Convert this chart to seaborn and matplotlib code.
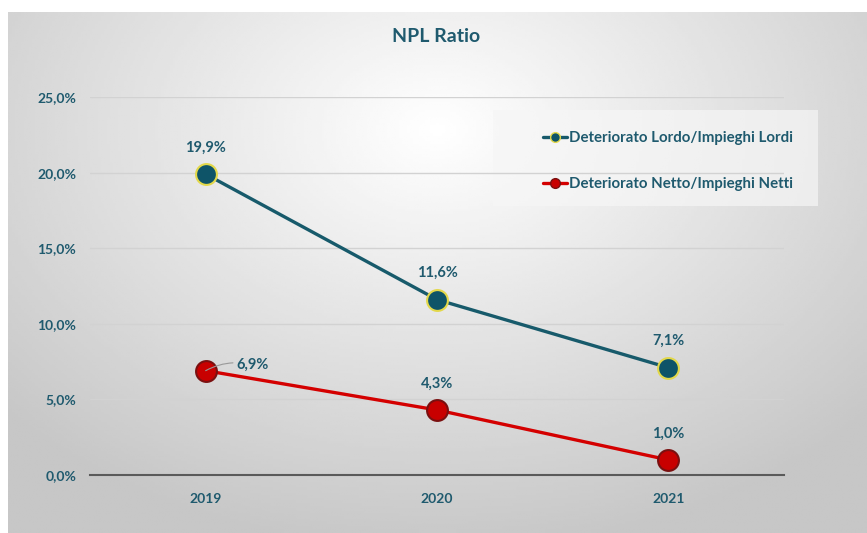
import matplotlib
matplotlib.use("Agg")
import matplotlib.pyplot as plt
from matplotlib.patches import Rectangle
import numpy as np
import pandas as pd
import seaborn as sns

years = ["2019", "2020", "2021"]
lordo = [19.9, 11.6, 7.1]
netto = [6.9, 4.3, 1.0]
series_names = ["Deteriorato Lordo/Impieghi Lordi", "Deteriorato Netto/Impieghi Netti"]
y_ticks = [0, 5, 10, 15, 20, 25]

teal = "#175a6b"
text_teal = "#1f5a6e"
red = "#d40000"

df = pd.DataFrame({
    "anno": years * 2,
    "valore": lordo + netto,
    "serie": [series_names[0]] * 3 + [series_names[1]] * 3,
})

sns.set_theme(style="white")
plt.rcParams["font.family"] = ["Lato", "DejaVu Sans"]

fig = plt.figure(figsize=(8.67, 5.33), dpi=100)

# gradient panel behind the chart
bg = fig.add_axes([8 / 867, 0, 1 - 8 / 867, 1 - 12 / 533], zorder=-2)
gx, gy = np.meshgrid(np.linspace(-1, 1, 300), np.linspace(-1, 1, 200))
r = np.sqrt((gx * 0.95) ** 2 + ((gy + 0.55) * 0.8) ** 2)
bg.imshow(1 - 0.17 * np.clip(r, 0, 1.3), cmap="gray", vmin=0, vmax=1,
          aspect="auto", extent=[0, 1, 0, 1], origin="upper")
bg.axis("off")

# legend box (under the grid)
fig.patches.append(Rectangle((493 / 867, 1 - 206 / 533), 325 / 867, 96 / 533,
                             transform=fig.transFigure, facecolor="#f6f6f6",
                             edgecolor="none", alpha=0.7, zorder=-1))

ax = fig.add_axes([90 / 867, 1 - 475 / 533, 694 / 867, 378 / 533])
ax.patch.set_alpha(0)

sns.lineplot(data=df, x="anno", y="valore", hue="serie", palette=[teal, red],
             marker="o", markersize=15, linewidth=2.4, ax=ax, legend=False, sort=False)
# marker edges
for line, edge, face in zip(ax.get_lines(), ["#e3d84a", "#7a1010"], ["#0e5468", "#c80000"]):
    line.set_markeredgecolor(edge)
    line.set_markerfacecolor(face)
    line.set_markeredgewidth(1.5)

ax.set_xlim(-0.5, 2.5)
ax.set_ylim(0, 25)
ax.set_yticks(y_ticks)
ax.set_yticklabels([f"{v:.1f}%".replace(".", ",") for v in y_ticks])
ax.yaxis.grid(True, color="#d2d2d2", linewidth=1)
ax.set_axisbelow(True)
for s in ["top", "right", "left"]:
    ax.spines[s].set_visible(False)
ax.spines["bottom"].set_color("#5a5a5a")
ax.spines["bottom"].set_linewidth(1.5)
ax.tick_params(axis="both", length=0, labelsize=10, labelcolor=text_teal)
for lab in ax.get_xticklabels() + ax.get_yticklabels():
    lab.set_fontweight("bold")
ax.tick_params(axis="y", pad=10)
ax.tick_params(axis="x", pad=13)
ax.set_xlabel("")
ax.set_ylabel("")

# data labels
for i, v in enumerate(lordo):
    ax.annotate(f"{v:.1f}%".replace(".", ","), (i, v), xytext=(0, 14),
                textcoords="offset points", ha="center", va="bottom",
                fontsize=10.5, fontweight="bold", color=text_teal)
for i, v in enumerate(netto):
    if i == 0:
        ax.annotate(f"{v:.1f}%".replace(".", ","), (i, v), xytext=(22, 4),
                    textcoords="offset points", ha="left", va="center",
                    fontsize=10.5, fontweight="bold", color=text_teal,
                    arrowprops=dict(arrowstyle="-", color="#999999", lw=0.8,
                                    connectionstyle="arc3,rad=0.2", shrinkA=0, shrinkB=0))
    else:
        ax.annotate(f"{v:.1f}%".replace(".", ","), (i, v), xytext=(0, 14),
                    textcoords="offset points", ha="center", va="bottom",
                    fontsize=10.5, fontweight="bold", color=text_teal)

handles = [
    plt.Line2D([], [], color=teal, lw=2.4, marker="o", markersize=7,
               markerfacecolor="#0e5468", markeredgecolor="#e3d84a"),
    plt.Line2D([], [], color=red, lw=2.4, marker="o", markersize=7,
               markerfacecolor="#c80000", markeredgecolor="#7a1010"),
]
leg = fig.legend(handles, series_names, loc="upper left",
                 bbox_to_anchor=(543 / 867, 1 - 131 / 533), frameon=False,
                 handlelength=1.6, handletextpad=0.15, labelspacing=2.15,
                 borderpad=0, borderaxespad=0, prop={"weight": "bold", "size": 10.8})
for t in leg.get_texts():
    t.set_color(text_teal)

fig.text(436 / 867, 1 - 36 / 533, "NPL Ratio", ha="center", va="center",
         fontsize=14, fontweight="bold", color=text_teal)

fig.savefig("out.png", dpi=100)
